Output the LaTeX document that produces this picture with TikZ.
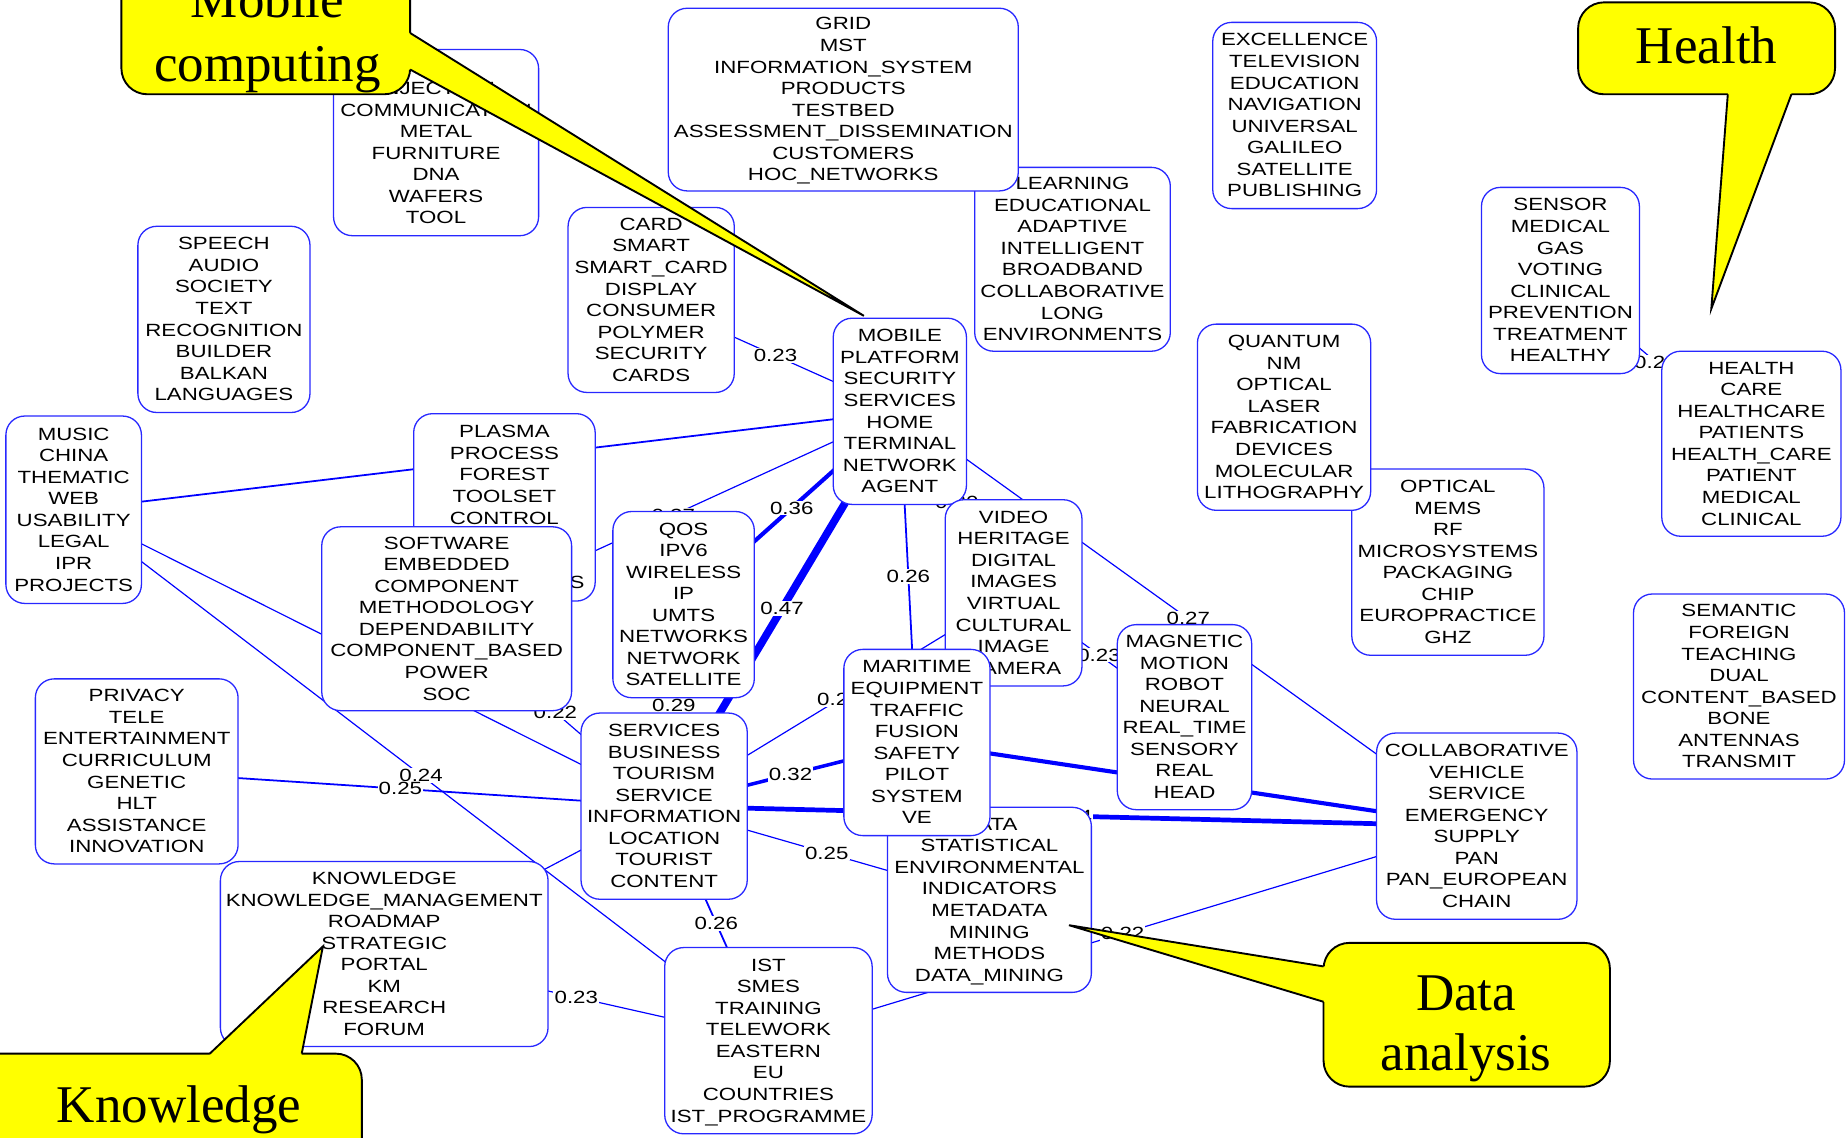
\documentclass[tikz,border=0pt]{standalone}
\usepackage{fontspec}
\setmainfont{Liberation Serif}
\newfontfamily\kwfont[FakeStretch=1.26]{Liberation Sans}
\usetikzlibrary{calc}

\pgfdeclarelayer{links}
\pgfdeclarelayer{notes}
\pgfsetlayers{links,main,notes}

\definecolor{boxblue}{RGB}{40,40,255}
\definecolor{linkblue}{RGB}{0,0,255}
\definecolor{noteyellow}{RGB}{255,255,0}

% keyword cluster box: name, centre x, centre y, width, height, lines
% (the two invisible rules give every box the same text block height)
\newcommand{\kwbox}[6]{\node[kw, minimum width=#4pt, minimum height=#5pt] (#1) at (#2,#3)
  {\rule{0pt}{13pt}#6\rule[-3pt]{0pt}{1pt}};}
% weight label at the middle of the centre-to-centre link
\newcommand{\linklabel}[3]{\node[lbl] (lab-#1-#2) at ($(#1.center)!0.5!(#2.center)$) {#3};}

\begin{document}
\begin{tikzpicture}[x=1pt, y=-1pt,
  kw/.style={draw=boxblue, line width=1.1pt, fill=white, rounded corners=16pt,
    align=center, inner sep=0pt, text=black,
    font=\kwfont\fontsize{15}{18.3}\selectfont},
  link/.style={draw=linkblue, line width=1pt},
  linkm/.style={draw=linkblue, line width=1.5pt},
  lbl/.style={fill=white, inner sep=1pt, text=black, font=\kwfont\fontsize{15}{18}\selectfont},
  note/.style={fill=noteyellow, draw=black, line width=1.6pt, rounded corners=22pt},
  notefill/.style={fill=noteyellow},
  notetip/.style={draw=black, line width=1.6pt},
  notetext/.style={font=\fontsize{45}{54}\selectfont, anchor=base, inner sep=0pt, text=black}]

\useasboundingbox (0,0) rectangle (1568,965);

% ---------- keyword clusters ----------
\kwbox{learning}{910}{220}{166}{156}{LEARNING\\EDUCATIONAL\\ADAPTIVE\\INTELLIGENT\\BROADBAND\\COLLABORATIVE\\LONG\\ENVIRONMENTS}
\kwbox{grid}{715.5}{84.5}{297}{155}{GRID\\MST\\INFORMATION\_SYSTEM\\PRODUCTS\\TESTBED\\ASSESSMENT\_DISSEMINATION\\CUSTOMERS\\HOC\_NETWORKS}
\kwbox{inject}{370}{121}{174}{158}{\mbox{}\\INJECTION\\COMMUNICATION\\METAL\\FURNITURE\\DNA\\WAFERS\\TOOL}
\kwbox{excel}{1098.5}{98}{139}{158}{EXCELLENCE\\TELEVISION\\EDUCATION\\NAVIGATION\\UNIVERSAL\\GALILEO\\SATELLITE\\PUBLISHING}
\kwbox{speech}{190}{271}{146}{158}{SPEECH\\AUDIO\\SOCIETY\\TEXT\\RECOGNITION\\BUILDER\\BALKAN\\LANGUAGES}
\kwbox{card}{552.5}{254.5}{141}{157}{CARD\\SMART\\SMART\_CARD\\DISPLAY\\CONSUMER\\POLYMER\\SECURITY\\CARDS}
\kwbox{sensor}{1324}{238}{134}{158}{SENSOR\\MEDICAL\\GAS\\VOTING\\CLINICAL\\PREVENTION\\TREATMENT\\HEALTHY}
\kwbox{health}{1486}{376.5}{152}{157}{HEALTH\\CARE\\HEALTHCARE\\PATIENTS\\HEALTH\_CARE\\PATIENT\\MEDICAL\\CLINICAL}
\kwbox{mobile}{763.5}{349}{113}{158}{MOBILE\\PLATFORM\\SECURITY\\SERVICES\\HOME\\TERMINAL\\NETWORK\\AGENT}
\kwbox{optical}{1228.5}{477}{163}{158}{OPTICAL\\MEMS\\RF\\MICROSYSTEMS\\PACKAGING\\CHIP\\EUROPRACTICE\\GHZ}
\kwbox{quantum}{1089.5}{354}{147}{158}{QUANTUM\\NM\\OPTICAL\\LASER\\FABRICATION\\DEVICES\\MOLECULAR\\LITHOGRAPHY}
\kwbox{music}{62.5}{432.5}{115}{159}{MUSIC\\CHINA\\THEMATIC\\WEB\\USABILITY\\LEGAL\\IPR\\PROJECTS}
\kwbox{plasma}{428}{430.5}{154}{159}{PLASMA\\PROCESS\\FOREST\\TOOLSET\\CONTROL\\\mbox{}\\\mbox{}\\\makebox[136pt][r]{S}}
\kwbox{software}{379}{525}{212}{156}{SOFTWARE\\EMBEDDED\\COMPONENT\\METHODOLOGY\\DEPENDABILITY\\COMPONENT\_BASED\\POWER\\SOC}
\kwbox{qos}{580}{513}{120}{158}{QOS\\IPV6\\WIRELESS\\IP\\UMTS\\NETWORKS\\NETWORK\\SATELLITE}
\kwbox{video}{860}{503}{116}{158}{VIDEO\\HERITAGE\\DIGITAL\\IMAGES\\VIRTUAL\\CULTURAL\\IMAGE\\CAMERA}
\kwbox{magnetic}{1005}{608.5}{114}{157}{MAGNETIC\\MOTION\\ROBOT\\NEURAL\\REAL\_TIME\\SENSORY\\REAL\\HEAD}
\kwbox{semantic}{1475.5}{582.5}{179}{157}{SEMANTIC\\FOREIGN\\TEACHING\\DUAL\\CONTENT\_BASED\\BONE\\ANTENNAS\\TRANSMIT}
\kwbox{privacy}{116}{654.5}{172}{157}{PRIVACY\\TELE\\ENTERTAINMENT\\CURRICULUM\\GENETIC\\HLT\\ASSISTANCE\\INNOVATION}
\kwbox{data}{839.5}{763.5}{173}{157}{DATA\\STATISTICAL\\ENVIRONMENTAL\\INDICATORS\\METADATA\\MINING\\METHODS\\DATA\_MINING}
\kwbox{maritime}{778}{630}{124}{158}{MARITIME\\EQUIPMENT\\TRAFFIC\\FUSION\\SAFETY\\PILOT\\SYSTEM\\VE}
\kwbox{services}{563.5}{684}{141}{158}{SERVICES\\BUSINESS\\TOURISM\\SERVICE\\INFORMATION\\LOCATION\\TOURIST\\CONTENT}
\kwbox{collab}{1253}{701}{170}{158}{COLLABORATIVE\\VEHICLE\\SERVICE\\EMERGENCY\\SUPPLY\\PAN\\PAN\_EUROPEAN\\CHAIN}
\kwbox{knowledge}{326}{809.5}{278}{157}{KNOWLEDGE\\KNOWLEDGE\_MANAGEMENT\\ROADMAP\\STRATEGIC\\PORTAL\\KM\\RESEARCH\\FORUM}
\kwbox{ist}{652}{883}{176}{158}{IST\\SMES\\TRAINING\\TELEWORK\\EASTERN\\EU\\COUNTRIES\\IST\_PROGRAMME}

% ---------- weighted links (centre to centre, hidden under the boxes) ----------
\begin{pgfonlayer}{links}
\fill[white] (0,0) rectangle (1568,965);
\draw[link] (card.center) -- (mobile.center);
\draw[linkm] (music.center) -- (mobile.center);
\draw[link] (mobile.center) -- (software.center);
\draw[link, line width=3.5pt] (mobile.center) -- (qos.center);
\draw[link, line width=6.5pt] (mobile.center) -- (services.center);
\draw[linkm] (mobile.center) -- (maritime.center);
\draw[link] (mobile.center) -- (video.center);
\draw[link] (mobile.center) -- (collab.center);
\draw[link, line width=2pt] (qos.center) -- (services.center);
\draw[link, line width=3pt] (services.center) -- (maritime.center);
\draw[link, line width=4pt] (services.center) -- (collab.center);
\draw[link, line width=3.5pt] (maritime.center) -- (collab.center);
\draw[link] (services.center) -- (video.center);
\draw[link] (services.center) -- (data.center);
\draw[linkm] (services.center) -- (ist.center);
\draw[link] (services.center) -- (knowledge.center);
\draw[linkm] (services.center) -- (privacy.center);
\draw[link] (services.center) -- (software.center);
\draw[link] (music.center) -- (services.center);
\draw[link] (music.center) -- (ist.center);
\draw[link] (knowledge.center) -- (ist.center);
\draw[link] (ist.center) -- (collab.center);
\draw[link] (video.center) -- (magnetic.center);
\draw[link] (sensor.center) -- (health.center);

\linklabel{card}{mobile}{0.23}
\linklabel{mobile}{software}{0.27}
\linklabel{mobile}{qos}{0.36}
\linklabel{mobile}{services}{0.47}
\linklabel{mobile}{maritime}{0.26}
\linklabel{mobile}{video}{0.30}
\linklabel{mobile}{collab}{0.27}
\linklabel{qos}{services}{0.29}
\linklabel{services}{maritime}{0.32}
\linklabel{services}{collab}{0.34}
\linklabel{services}{video}{0.21}
\linklabel{services}{data}{0.25}
\linklabel{services}{ist}{0.26}
\linklabel{services}{knowledge}{0.21}
\linklabel{services}{software}{0.22}
\linklabel{music}{ist}{0.24}
\linklabel{services}{privacy}{0.25}
\linklabel{knowledge}{ist}{0.23}
\linklabel{ist}{collab}{0.22}
\linklabel{video}{magnetic}{0.23}
\linklabel{sensor}{health}{0.21}
\end{pgfonlayer}

% ---------- call-out balloons ----------
\begin{pgfonlayer}{notes}
% Mobile computing
\path[note] (103,-45) rectangle (348,80);
\fill[notefill] (340,28) -- (348,28) -- (733,268) -- (348,59) -- (340,59) -- cycle;
\draw[notetip] (348,28) -- (733,268) -- (348,59);
\node[notetext] (mobA) at (227,15) {Mobile};
\node[notetext] (mobB) at (227,69) {computing};
% Health
\path[note] (1339,2) rectangle (1557,80);
\fill[notefill] (1466,72) -- (1466,80) -- (1452,262) -- (1520,80) -- (1520,72) -- cycle;
\draw[notetip] (1466,80) -- (1452,262) -- (1520,80);
\node[notetext] (healthtxt) at (1448,54) {Health};
% Data analysis
\path[note] (1123,800) rectangle (1366,922);
\fill[notefill] (1131,820) -- (1123,820) -- (907,785) -- (1123,850) -- (1131,850) -- cycle;
\draw[notetip] (1123,820) -- (907,785) -- (1123,850);
\node[notetext] (dataA) at (1244,857) {Data};
\node[notetext] (dataB) at (1244,908) {analysis};
% Knowledge
\path[note] (-30,894) rectangle (307,1010);
\fill[notefill] (178,902) -- (178,894) -- (274,803) -- (256,894) -- (256,902) -- cycle;
\draw[notetip] (178,894) -- (274,803) -- (256,894);
\node[notetext] (knowtxt) at (152,952) {Knowledge};
\end{pgfonlayer}
\end{tikzpicture}
\end{document}
